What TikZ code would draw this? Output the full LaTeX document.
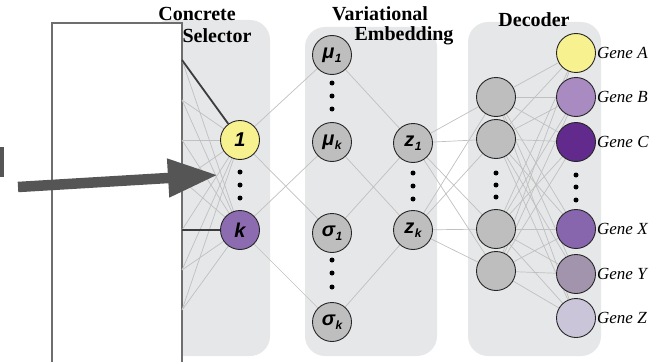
\documentclass[tikz,border=0pt]{standalone}
\usepackage{fontspec}
\setmainfont{Liberation Serif}
\newfontfamily\lblfont{Liberation Sans}
\usetikzlibrary{arrows.meta}
\definecolor{panelgray}{HTML}{E6E7E8}
\definecolor{nodegray}{HTML}{BEBEBE}
\definecolor{edgegray}{HTML}{C0C0C0}
\definecolor{darkline}{HTML}{3C3C3C}
\definecolor{boxline}{HTML}{6E6E6E}
\definecolor{arrowgray}{HTML}{555555}
\definecolor{selyellow}{HTML}{F7F18F}
\definecolor{selpurple}{HTML}{8C6BB1}
\definecolor{gA}{HTML}{F8F190}
\definecolor{gB}{HTML}{A98BC2}
\definecolor{gC}{HTML}{622A8D}
\definecolor{gX}{HTML}{8766AE}
\definecolor{gY}{HTML}{A394AD}
\definecolor{gZ}{HTML}{CBC5D9}
\newcommand{\nsub}[1]{\kern0.5pt\raisebox{-4.5pt}{\fontsize{12}{12}\selectfont #1}}
\pgfdeclarelayer{panels}
\pgfdeclarelayer{edges}
\pgfdeclarelayer{top}
\pgfsetlayers{panels,edges,main,top}
\begin{document}
\begin{tikzpicture}[x=1pt,y=-1pt,
  neuron/.style={circle, draw=black!85, line width=0.9pt, minimum size=39pt, inner sep=0pt,
    font=\lblfont\fontsize{20}{20}\selectfont\bfseries\itshape},
  hid/.style={neuron, fill=nodegray},
  edge/.style={draw=edgegray, line width=0.7pt},
  darkedge/.style={draw=darkline, line width=1.8pt},
  paneltitle/.style={font=\bfseries\fontsize{20}{22}\selectfont, inner sep=0pt},
  gene/.style={font=\itshape\fontsize{17}{17}\selectfont, anchor=west, inner sep=1pt},
  dotmark/.style={circle, fill=black, inner sep=0pt, minimum size=5pt},
  panel/.style={fill=panelgray, rounded corners=20pt}]
\useasboundingbox (0,0) rectangle (663,361);
\clip (0,0) rectangle (663,361);

% panels and input box
\begin{pgfonlayer}{panels}
  \fill[panel] (150,20) rectangle (270,356);
  \fill[panel] (305,27) rectangle (437,356);
  \fill[panel] (468,22) rectangle (601,356);
  \draw[fill=white, draw=boxline, line width=1.5pt] (52,23) rectangle (182,380);
\end{pgfonlayer}

% titles
\node[paneltitle] (t1) at (197,14) {Concrete};
\node[paneltitle] (t2) at (217,36) {Selector};
\node[paneltitle] (t3) at (380,14) {Variational};
\node[paneltitle] (t4) at (404,36) {Embedding};
\node[paneltitle] (t5) at (534,20) {Decoder};

% selector
\node[neuron, fill=selyellow] (s1) at (240,140) {1};
\node[neuron, fill=selpurple] (sk) at (240,230) {k};
\node[dotmark] (sd1) at (240,172) {};
\node[dotmark] (sd2) at (240,185) {};
\node[dotmark] (sd3) at (240,198) {};

% variational embedding
\node[hid] (m1) at (332,55) {μ\nsub{1}};
\node[hid] (mk) at (332,142) {μ\nsub{k}};
\node[hid] (v1) at (332,233) {σ\nsub{1}};
\node[hid] (vk) at (332,322) {σ\nsub{k}};
\node[dotmark] (md1) at (332,83) {};
\node[dotmark] (md2) at (332,96) {};
\node[dotmark] (md3) at (332,109) {};
\node[dotmark] (vd1) at (332,260) {};
\node[dotmark] (vd2) at (332,273) {};
\node[dotmark] (vd3) at (332,287) {};
\node[hid] (z1) at (413,143) {z\nsub{1}};
\node[hid] (zk) at (413,230) {z\nsub{k}};
\node[dotmark] (zd1) at (413,173) {};
\node[dotmark] (zd2) at (413,186) {};
\node[dotmark] (zd3) at (413,199) {};

% decoder hidden
\node[hid] (h1) at (496,97) {};
\node[hid] (h2) at (496,139) {};
\node[hid] (h3) at (496,229) {};
\node[hid] (h4) at (496,271) {};
\node[dotmark] (hd1) at (496,173) {};
\node[dotmark] (hd2) at (496,185) {};
\node[dotmark] (hd3) at (496,197) {};

% outputs
\node[neuron, fill=gA] (oA) at (576,53) {};
\node[neuron, fill=gB] (oB) at (576,97) {};
\node[neuron, fill=gC] (oC) at (576,142) {};
\node[neuron, fill=gX] (oX) at (576,229) {};
\node[neuron, fill=gY] (oY) at (576,274) {};
\node[neuron, fill=gZ] (oZ) at (576,318) {};
\node[dotmark] (od1) at (576,175) {};
\node[dotmark] (od2) at (576,187) {};
\node[dotmark] (od3) at (576,200) {};
\node[gene] (lA) at (oA.east) {Gene A};
\node[gene] (lB) at (oB.east) {Gene B};
\node[gene] (lC) at (oC.east) {Gene C};
\node[gene] (lX) at (oX.east) {Gene X};
\node[gene] (lY) at (oY.east) {Gene Y};
\node[gene] (lZ) at (oZ.east) {Gene Z};

% input coordinates on the box edge
\coordinate (i1) at (182,60);
\coordinate (i2) at (182,100);
\coordinate (i3) at (182,140);
\coordinate (i4) at (182,180);
\coordinate (i5) at (182,230);
\coordinate (i6) at (182,270);
\coordinate (i7) at (182,310);

\begin{pgfonlayer}{edges}
  \foreach \i in {2,3,4,5,6,7} \draw[edge] (i\i) -- (s1);
  \foreach \i in {1,2,3,4,6,7} \draw[edge] (i\i) -- (sk);
  \draw[darkedge] (i1) -- (s1);
  \draw[darkedge] (i5) -- (sk);
  \draw[edge] (s1) -- (m1);
  \draw[edge] (s1) -- (v1);
  \draw[edge] (sk) -- (mk);
  \draw[edge] (sk) -- (vk);
  \draw[edge] (m1) -- (z1);
  \draw[edge] (v1) -- (z1);
  \draw[edge] (mk) -- (zk);
  \draw[edge] (vk) -- (zk);
  \foreach \z in {z1,zk}
    \foreach \h in {h1,h2,h3,h4}
      \draw[edge] (\z) -- (\h);
  \foreach \h in {h1,h2,h3,h4}
    \foreach \o in {oA,oB,oC,oX,oY,oZ}
      \draw[edge] (\h) -- (\o);
\end{pgfonlayer}

% arrow and left mark
\coordinate (arrS) at (18,187);
\coordinate (arrT) at (218,175);
\coordinate (barA) at (0,147);
\coordinate (barB) at (4,177);
\begin{pgfonlayer}{top}
  \draw[arrowgray, line width=10.5pt, -{Triangle[length=50pt,width=36pt]}] (arrS) -- (arrT);
  \fill[arrowgray] (barA) rectangle (barB);
\end{pgfonlayer}
\end{tikzpicture}
\end{document}
